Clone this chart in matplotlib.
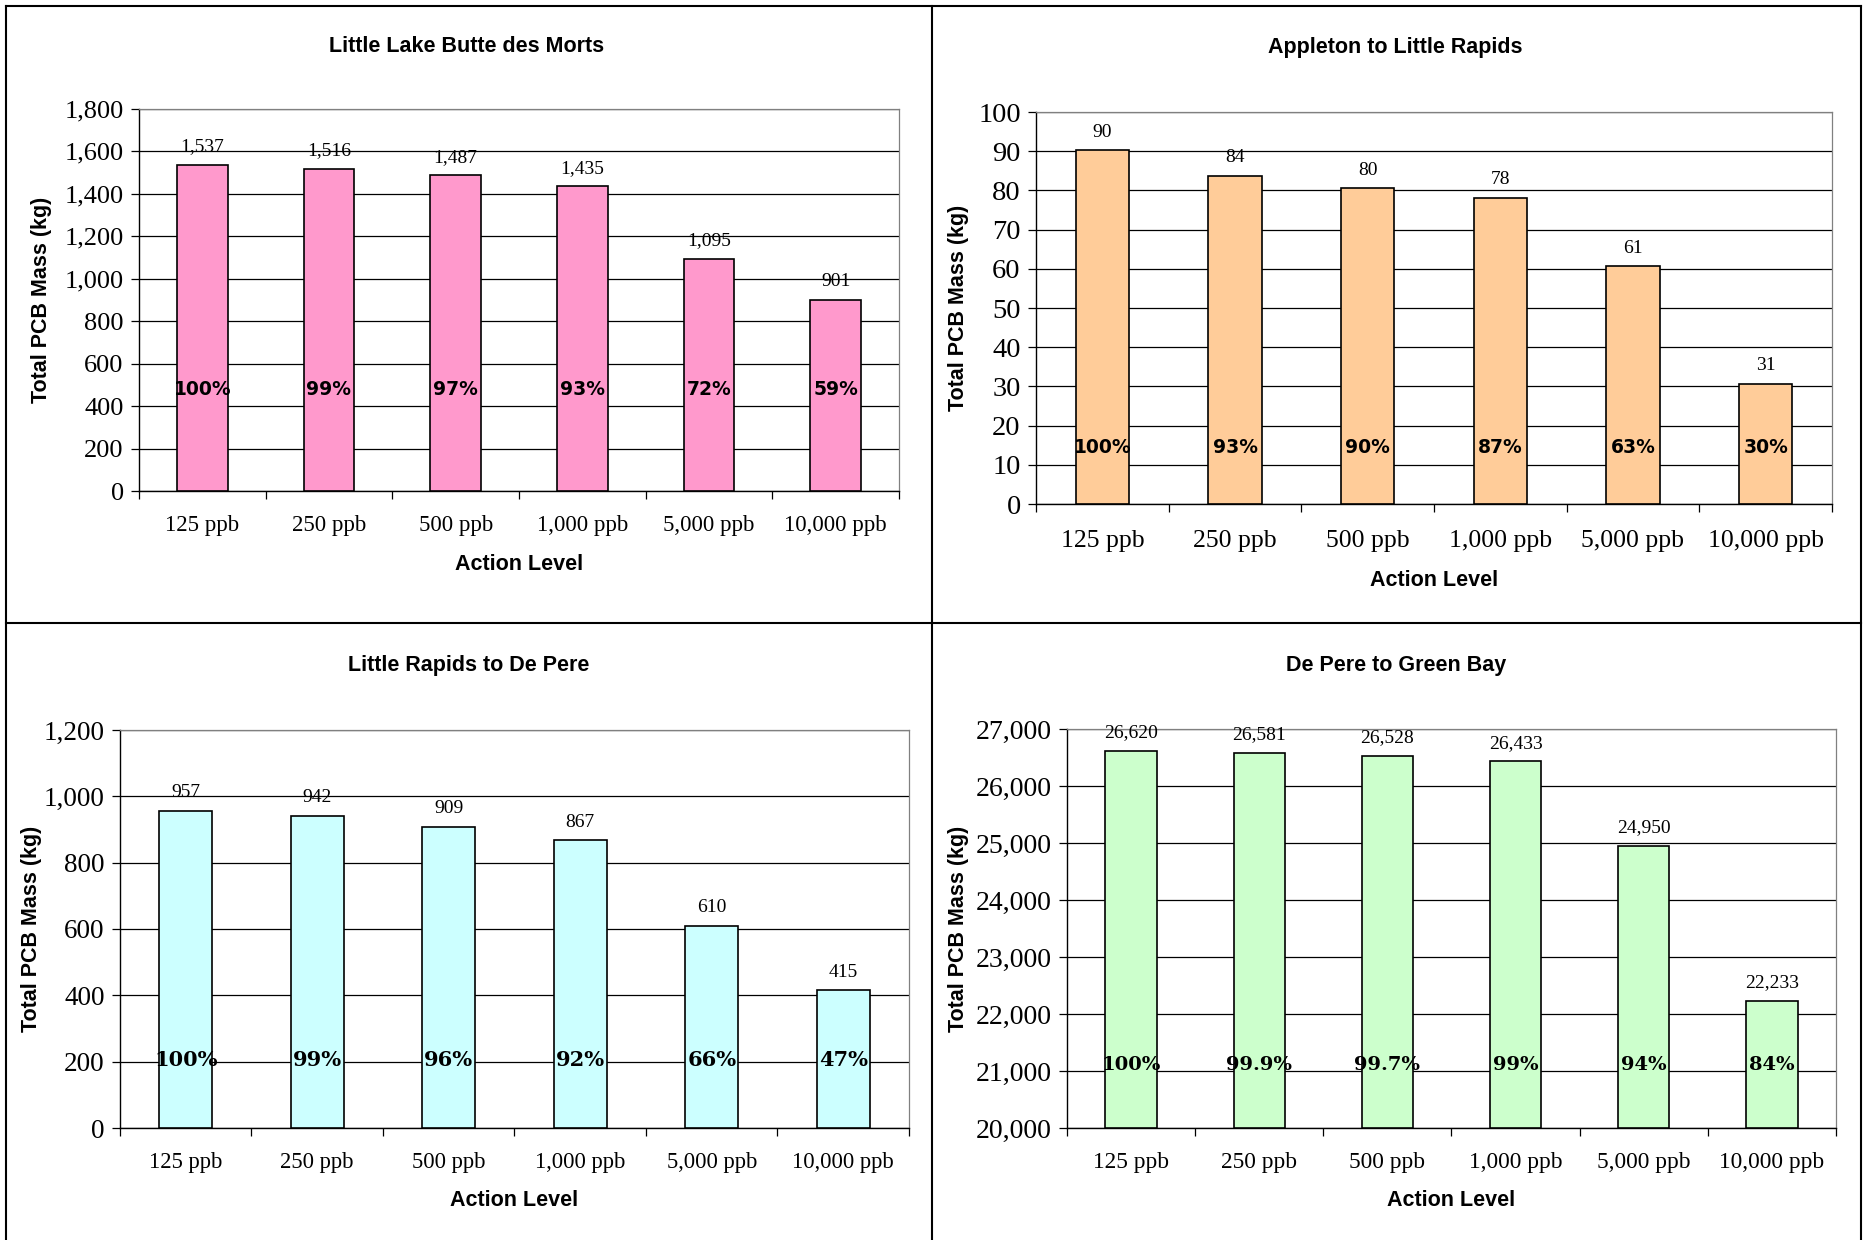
import matplotlib
matplotlib.use("Agg")
from matplotlib import pyplot as plt
from matplotlib.lines import Line2D
import numpy as np

levels = ["125 ppb", "250 ppb", "500 ppb", "1,000 ppb", "5,000 ppb", "10,000 ppb"]

# Little Lake Butte des Morts
llbdm_mass = [1537, 1516, 1487, 1435, 1095, 901]
llbdm_pct = ["100%", "99%", "97%", "93%", "72%", "59%"]

# Appleton to Little Rapids
alr_mass = [90.2, 83.8, 80.5, 78.1, 60.6, 30.7]
alr_pct = ["100%", "93%", "90%", "87%", "63%", "30%"]

# Little Rapids to De Pere
lrdp_mass = [957, 942, 909, 867, 610, 415]
lrdp_pct = ["100%", "99%", "96%", "92%", "66%", "47%"]

# De Pere to Green Bay
dpgb_mass = [26620, 26581, 26528, 26433, 24950, 22233]
dpgb_pct = ["100%", "99.9%", "99.7%", "99%", "94%", "84%"]

W, H = 1865, 1240
fig = plt.figure(figsize=(W / 100, H / 100), dpi=100)

serif = "Liberation Serif"
sans = "Liberation Sans"


def px_axes(l, t, r, b):
    return fig.add_axes([l / W, 1 - b / H, (r - l) / W, (b - t) / H])


def panel(box, title, title_x, title_y, vals, pcts, color, ylim, step, pct_y, pct_font,
          xt_size, yt_size, val_size, ylab_x, xlab_y, xtick_pad):
    ax = px_axes(*box)
    x = np.arange(len(vals))
    bottom = ylim[0]
    ax.bar(x, np.array(vals) - bottom, bottom=bottom, width=0.4, color=color,
           edgecolor="black", linewidth=1.2, zorder=3)
    ax.set_xlim(-0.5, len(vals) - 0.5)
    ax.set_ylim(*ylim)
    ax.set_yticks(np.arange(ylim[0], ylim[1] + step / 2, step))
    ax.yaxis.set_major_formatter(matplotlib.ticker.FuncFormatter(lambda v, p: f"{v:,.0f}"))
    ax.grid(axis="y", color="black", linewidth=0.9, zorder=1)
    ax.set_xticks(x)
    ax.set_xticklabels(levels, fontsize=xt_size, family=serif)
    ax.set_xticks(np.arange(-0.5, len(vals), 1.0), minor=True)
    ax.tick_params(axis="x", which="major", length=0, pad=xtick_pad)
    ax.tick_params(axis="x", which="minor", length=6, width=0.9, direction="out")
    ax.tick_params(axis="y", length=6, width=0.9, direction="out", labelsize=yt_size, pad=5)
    for lab in ax.get_yticklabels():
        lab.set_family(serif)
    for s in ("top", "right"):
        ax.spines[s].set_color("#808080")
        ax.spines[s].set_linewidth(0.9)
    for s in ("left", "bottom"):
        ax.spines[s].set_linewidth(1.0)
    for xi, v in zip(x, vals):
        ax.annotate(f"{v:,.0f}", (xi, v), xytext=(0, 7), textcoords="offset points",
                    ha="center", va="bottom", fontsize=val_size, family=serif)
    for xi, p in zip(x, pcts):
        ax.text(xi, pct_y, p, ha="center", va="center", zorder=4, **pct_font)
    l, t, r, b = box
    fig.text(title_x / W, 1 - title_y / H, title, ha="center", va="center",
             fontsize=15.5, fontweight="bold", family=sans)
    fig.text(ylab_x / W, 1 - (t + b) / 2 / H, "Total PCB Mass (kg)", rotation=90,
             ha="center", va="center", fontsize=15.5, fontweight="bold", family=sans)
    fig.text((l + r) / 2 / W, 1 - xlab_y / H, "Action Level", ha="center", va="center",
             fontsize=15.5, fontweight="bold", family=sans)
    return ax


pct_top = dict(fontsize=13.5, fontweight="bold", family="DejaVu Sans")
pct_bl = dict(fontsize=15, fontweight="bold", family="DejaVu Serif")
pct_br = dict(fontsize=14, fontweight="bold", family="DejaVu Serif")

panel((139, 109, 899, 491), "Little Lake Butte des Morts", 467, 47, llbdm_mass, llbdm_pct,
      "#FF99CC", (0, 1800), 200, 480, pct_top, 16.5, 19, 14, 42, 564, 17)
panel((1036, 112, 1832, 504), "Appleton to Little Rapids", 1395, 47, alr_mass, alr_pct,
      "#FFCC99", (0, 100), 10, 14.5, pct_top, 18.5, 20.5, 14, 959, 581, 19)
panel((120, 730, 909, 1128), "Little Rapids to De Pere", 469, 666, lrdp_mass, lrdp_pct,
      "#CCFFFF", (0, 1200), 200, 205, pct_bl, 16.3, 19.5, 14, 32, 1201, 17)
panel((1067, 729, 1836, 1128), "De Pere to Green Bay", 1396, 666, dpgb_mass, dpgb_pct,
      "#CCFFCC", (20000, 27000), 1000, 21100, pct_br, 16.8, 20, 14, 959, 1201, 17)

# panel frames
for xs, ys in [((6, 1861), (6, 6)), ((6, 1861), (623, 623)), ((6, 6), (6, 1240)),
               ((932, 932), (6, 1240)), ((1861, 1861), (6, 1240))]:
    fig.add_artist(Line2D([v / W for v in xs], [1 - v / H for v in ys],
                          color="black", linewidth=1.5))

fig.savefig("out.png", dpi=100)
